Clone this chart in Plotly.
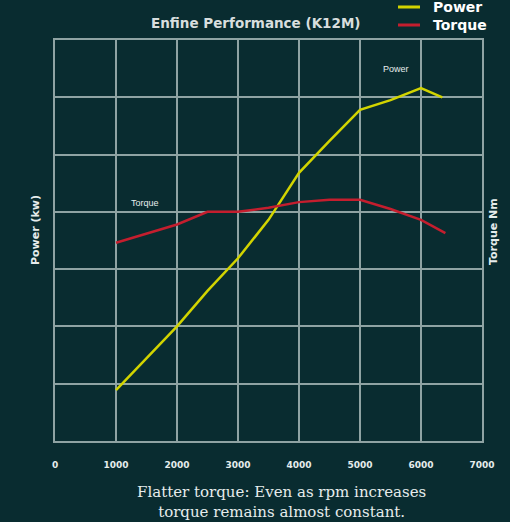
import plotly.graph_objects as go

rpm_power = [1000, 2000, 2500, 3000, 3500, 4000, 4500, 5000, 5500, 6000, 6350]
power = [0.89, 2.0, 2.62, 3.19, 3.86, 4.68, 5.24, 5.78, 5.95, 6.16, 6.0]

rpm_torque = [1000, 2000, 2500, 3000, 3500, 4000, 4500, 5000, 5500, 6000, 6400]
torque = [3.46, 3.78, 4.0, 4.0, 4.07, 4.17, 4.21, 4.21, 4.05, 3.86, 3.63]

x_ticks = [0, 1000, 2000, 3000, 4000, 5000, 6000, 7000]
legend_names = ["Power", "Torque"]
legend_colors = ["#d2d400", "#c41e2e"]

BG = "#092c30"
GRID = "#8fa3a3"
TXT = "#e6ecec"
SANS = "DejaVu Sans"

fig = go.Figure()
fig.add_trace(go.Scatter(x=rpm_power, y=power, mode="lines", name=legend_names[0],
                         line=dict(color=legend_colors[0], width=2.5)))
fig.add_trace(go.Scatter(x=rpm_torque, y=torque, mode="lines", name=legend_names[1],
                         line=dict(color=legend_colors[1], width=2.5)))

W, H = 510, 522
ML, MR, MT, MB = 55, 28, 40, 81
pw, ph = W - ML - MR, H - MT - MB

def px_to_paper(px, py):
    return (px - ML) / pw, (H - MB - py) / ph

annotations = [
    dict(text="<b>Enfine Performance (K12M)</b>", x=(256 - ML) / pw, y=(H - MB - 23) / ph,
         xref="paper", yref="paper", xanchor="center", yanchor="middle", showarrow=False,
         font=dict(family=SANS, size=13.5, color="#d8dede")),
    dict(text="Torque", x=1475, y=4.15, xref="x", yref="y", showarrow=False,
         font=dict(family="Liberation Sans", size=9, color=TXT)),
    dict(text="Power", x=5590, y=6.49, xref="x", yref="y", showarrow=False,
         font=dict(family="Liberation Sans", size=9, color=TXT)),
    dict(text="<b>Torque Nm</b>", x=(493 - ML) / pw, y=(H - MB - 232) / ph, xref="paper", yref="paper",
         xanchor="center", yanchor="middle",
         showarrow=False, textangle=-90, font=dict(family=SANS, size=11, color=TXT)),
    dict(text="<b>Power (kw)</b>", x=(35 - ML) / pw, y=(H - MB - 230) / ph, xref="paper", yref="paper",
         xanchor="center", yanchor="middle",
         showarrow=False, textangle=-90, font=dict(family=SANS, size=11, color=TXT)),
    dict(text="Flatter torque: Even as rpm increases<br>torque remains almost constant.",
         x=(281 - ML) / pw, y=(H - MB - 502) / ph, xref="paper", yref="paper", showarrow=False,
         xanchor="center", yanchor="middle", font=dict(family="DejaVu Serif", size=15, color="#e6ecec")),
]
shapes = []
for i, (name, col) in enumerate(zip(legend_names, legend_colors)):
    ly = 7 + i * 18
    x0, y0 = px_to_paper(398, ly)
    x1, _ = px_to_paper(420, ly)
    shapes.append(dict(type="line", xref="paper", yref="paper", x0=x0, x1=x1, y0=y0, y1=y0,
                       line=dict(color=col, width=3)))
    tx, ty = px_to_paper(431, ly)
    annotations.append(dict(text="<b>" + name + "</b>", x=tx, y=ty, xref="paper", yref="paper",
                            xanchor="left", yanchor="middle", showarrow=False,
                            font=dict(family=SANS, size=14, color="white")))

fig.update_layout(
    width=W, height=H,
    paper_bgcolor=BG, plot_bgcolor=BG,
    margin=dict(l=ML, r=MR, t=MT, b=MB, autoexpand=False),
    showlegend=False,
    xaxis=dict(range=[0, 7000], tickvals=x_ticks, ticktext=["<b>%d</b>" % v for v in x_ticks],
               showgrid=True, gridcolor=GRID, gridwidth=2, zeroline=False,
               showline=True, linecolor=GRID, linewidth=2, mirror=True,
               tickfont=dict(family=SANS, size=9, color=TXT), ticks="",
               ticklabelstandoff=14),
    yaxis=dict(range=[0, 7], dtick=1, showticklabels=False, showgrid=True,
               gridcolor=GRID, gridwidth=2, zeroline=False,
               showline=True, linecolor=GRID, linewidth=2, mirror=True),
    annotations=annotations,
    shapes=shapes,
)
fig.write_html("out.html", config={"displayModeBar": False},
               post_script="document.body.style.margin='0';document.body.style.background='%s';" % BG)
